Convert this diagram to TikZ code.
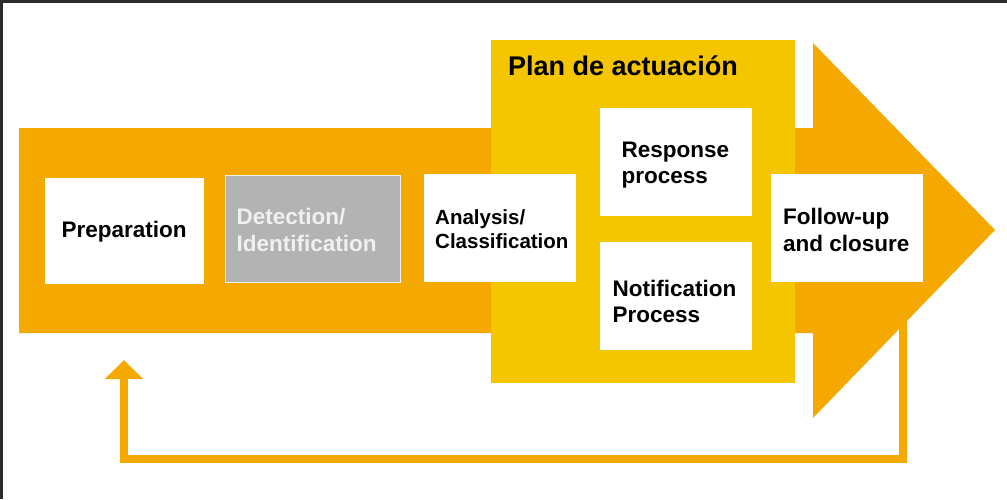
\documentclass[tikz,border=0pt]{standalone}
\usepackage{fontspec}
\setmainfont{Liberation Sans}
\usetikzlibrary{arrows.meta}
\definecolor{arrowor}{HTML}{F5A800}
\definecolor{planyel}{HTML}{F5C500}
\definecolor{detgray}{HTML}{B3B3B3}
\definecolor{framedark}{HTML}{2B2B2B}
\definecolor{dettext}{HTML}{F0F0F0}
\newcommand\twolines[3]{\vtop{\baselineskip=#1\hbox{#2}\hbox{#3}}}
\begin{document}
\begin{tikzpicture}[x=1pt,y=-1pt,
  stepbox/.style={fill=white, inner sep=0pt},
  steptext/.style={anchor=base west, inner sep=0pt, text=black,
    font=\bfseries\fontsize{22.5}{26}\selectfont},
  feedback/.style={draw=arrowor, line width=8pt, line join=miter,
    -{Triangle[width=37pt,length=19pt]}}]
\useasboundingbox (0,0) rectangle (1007,499);
\fill[white] (0,0) rectangle (1007,499);
\fill[framedark] (0,0) rectangle (1007,2.5);
\fill[framedark] (0,0) rectangle (2.5,499);
% main arrow
\fill[arrowor] (19,128) -- (813,128) -- (813,43) -- (995,230) -- (813,418)
  -- (813,333) -- (19,333) -- cycle;
% plan box
\fill[planyel] (491,40) rectangle (795,383);
\node[anchor=base west, inner sep=0pt, font=\bfseries\fontsize{27}{30}\selectfont]
  (plan) at (508,75) {Plan de actuación};
% boxes
\node[stepbox, minimum width=159pt, minimum height=106pt] (prep) at (124.5,231) {};
\node[stepbox, fill=detgray, draw=dettext, line width=1pt,
  minimum width=175pt, minimum height=107pt] (det) at (312.5,228.5) {};
\node[stepbox, minimum width=152pt, minimum height=108pt] (ana) at (500,228) {};
\node[stepbox, minimum width=152pt, minimum height=108pt] (resp) at (676,162) {};
\node[stepbox, minimum width=152pt, minimum height=108pt] (notif) at (676,296) {};
\node[stepbox, minimum width=152pt, minimum height=108pt] (fol) at (847,228) {};
% texts
\node[steptext] (prep-t) at (61.5,237) {Preparation};
\node[steptext, text=dettext] (det-t) at (236.5,224) {\twolines{27pt}{Detection/}{Identification}};
\node[steptext, font=\bfseries\fontsize{20.5}{24}\selectfont] (ana-t) at (435,224) {\twolines{24pt}{Analysis/}{Classification}};
\node[steptext] (resp-t) at (621.5,157.5) {\twolines{25.5pt}{Response}{process}};
\node[steptext] (notif-t) at (612.5,296) {\twolines{26pt}{Notification}{Process}};
\node[steptext] (fol-t) at (783,224) {\twolines{27pt}{Follow-up}{and closure}};
% feedback loop
\coordinate (fbstart) at (903,282);
\coordinate (fbcorner) at (124,459);
\coordinate (fbend) at (124,360);
\draw[feedback] (fbstart) |- (fbcorner) -- (fbend);
\end{tikzpicture}
\end{document}
